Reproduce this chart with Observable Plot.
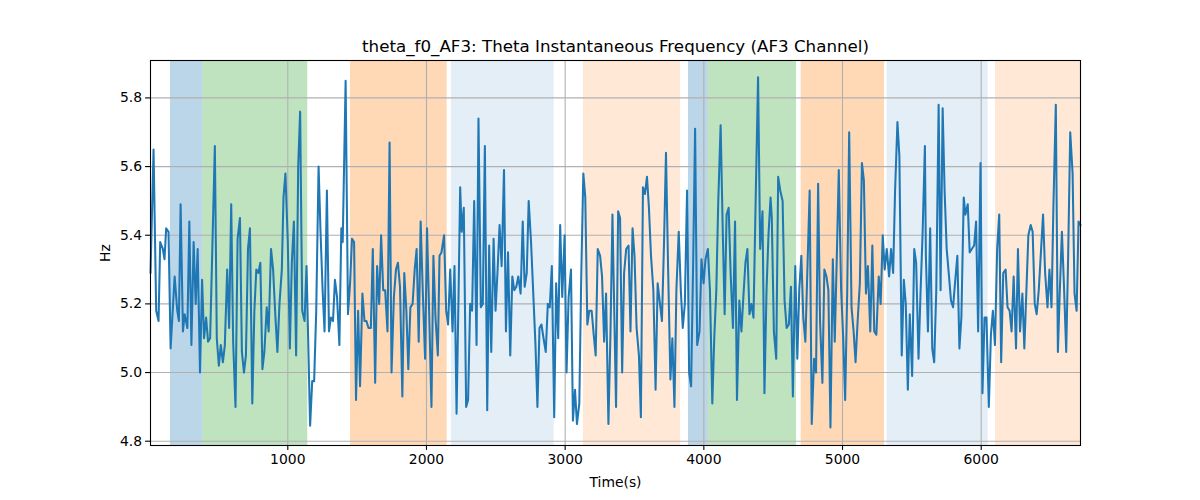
<!DOCTYPE html>
<html>
<head>
<meta charset="utf-8">
<script src="https://cdn.jsdelivr.net/npm/d3@7"></script>
<script src="https://cdn.jsdelivr.net/npm/@observablehq/plot@0.6"></script>
<style>
  html, body { margin: 0; padding: 0; background: white; }
</style>
</head>
<body>
<div id="chart"></div>
<script>
const times = [
  10, 32, 51, 68, 80, 99, 111, 123, 140, 155, 184, 203, 215, 227, 244, 256, 276, 290, 305, 321,
  336, 350, 367, 382, 396, 411, 425, 440, 474, 488, 503, 517, 532, 546, 563, 577, 592, 606, 623, 638,
  655, 669, 684, 698, 713, 727, 744, 759, 773, 788, 802, 817, 831, 848, 862, 879, 894, 911, 925, 940,
  957, 969, 983, 1000, 1015, 1029, 1044, 1060, 1075, 1089, 1104, 1121, 1135,
  1161, 1176, 1190, 1205, 1222, 1236, 1251, 1265, 1282, 1297, 1311, 1326, 1340, 1355, 1372, 1386, 1396, 1417, 1434, 1449,
  1463, 1478, 1492, 1507, 1521, 1538, 1553, 1567, 1582, 1599, 1613, 1630, 1644, 1659, 1673, 1688, 1702, 1719, 1734, 1748,
  1765, 1780, 1794, 1809, 1826, 1840, 1855, 1869, 1884, 1900, 1915, 1929, 1944, 1958, 1973, 1990, 2004, 2019, 2036, 2050,
  2065, 2082, 2094, 2108, 2127, 2142, 2156, 2171, 2188, 2202, 2217, 2231, 2243,
  2254, 2269, 2286, 2300, 2315, 2329, 2344, 2361, 2375, 2392, 2406, 2421, 2438, 2452, 2467, 2484, 2498, 2513, 2527, 2542,
  2559, 2573, 2588, 2604, 2619, 2633, 2648, 2662, 2679, 2694, 2708, 2723, 2737, 2754, 2769, 2786, 2800, 2815, 2829, 2844,
  2860, 2875, 2889, 2904, 2921, 2935, 2950, 2964, 2979, 2996, 3010, 3025, 3042, 3056, 3071, 3085, 3102, 3116, 3131, 3145,
  3160, 3174, 3191, 3206, 3220, 3235, 3252, 3266, 3281, 3295, 3312, 3327, 3341,
  3367, 3382, 3396, 3411, 3425, 3440, 3457, 3471, 3486, 3500, 3515, 3532, 3546, 3561, 3575, 3590, 3604, 3619, 3636, 3652,
  3667, 3681, 3698, 3713, 3727, 3742, 3759, 3773, 3788, 3802, 3819, 3834, 3848, 3863, 3879, 3894, 3908, 3923, 3937, 3952,
  3969, 3983, 3998, 4012, 4029, 4044, 4061, 4075, 4090, 4104, 4121, 4135, 4150, 4164, 4179, 4193, 4210, 4225, 4239, 4256,
  4271, 4285, 4300, 4314, 4329, 4343, 4358, 4375, 4391, 4406, 4423, 4437, 4452, 4466, 4481,
  4490, 4505, 4522, 4536, 4551, 4568, 4582, 4597, 4613, 4628, 4642, 4659, 4674, 4688, 4703, 4717, 4732, 4746, 4763, 4778,
  4795, 4809, 4824, 4838, 4855, 4869, 4884, 4898, 4913, 4930, 4944, 4959, 4973, 4990, 5005, 5019, 5034, 5048, 5065, 5080,
  5094, 5109, 5125, 5140, 5154, 5169, 5183, 5200, 5215, 5229, 5244, 5261, 5275, 5290, 5304, 5319, 5336, 5350, 5365, 5379,
  5396, 5410, 5427, 5442, 5456, 5471, 5485, 5502, 5517, 5531, 5548, 5563, 5577, 5594,
  5601, 5616, 5632, 5647, 5661, 5676, 5693, 5707, 5722, 5736, 5751, 5768, 5782, 5797, 5811, 5828, 5843, 5857, 5874, 5886,
  5903, 5917, 5932, 5949, 5963, 5978, 5995, 6009, 6024, 6038, 6055, 6070, 6084, 6099, 6115, 6130, 6144, 6159, 6176, 6190,
  6205, 6219, 6234, 6251, 6265, 6280, 6297, 6311, 6326, 6340, 6357, 6371, 6386, 6400, 6415, 6432, 6446, 6461, 6478, 6492,
  6507, 6521, 6538, 6553, 6567, 6582, 6598, 6613, 6627, 6642, 6659, 6673, 6688, 6702, 6716
];
const values = [
  5.29, 5.65, 5.18, 5.15, 5.38, 5.36, 5.33, 5.42, 5.41, 5.07, 5.28, 5.18, 5.15, 5.49, 5.12, 5.17, 5.13, 5.44, 5.08, 5.38,
  5.20, 5.36, 5.00, 5.27, 5.10, 5.16, 5.09, 5.10, 5.66, 5.10, 5.02, 5.08, 5.03, 5.08, 5.30, 5.13, 5.49, 5.09, 4.90, 5.39,
  5.45, 5.06, 5.00, 5.05, 5.36, 5.42, 4.91, 5.18, 5.30, 5.29, 5.32, 5.01, 5.06, 5.19, 5.12, 5.36, 5.30, 5.16, 5.06, 5.20,
  5.30, 5.51, 5.58, 5.38, 5.07, 5.32, 5.44, 5.05, 5.60, 5.76, 5.18, 5.15, 5.31,
  4.845, 4.975, 4.975, 5.18, 5.60, 5.41, 5.24, 5.12, 5.53, 5.12, 5.16, 5.15, 5.27, 5.22, 5.08, 5.42, 5.38, 5.85, 5.17, 5.26,
  5.39, 5.38, 4.92, 5.18, 4.96, 5.23, 5.15, 5.15, 5.13, 5.13, 5.36, 4.97, 5.31, 5.20, 5.40, 5.24, 5.24, 5.12, 5.67, 5.00,
  5.22, 5.30, 5.32, 5.25, 4.93, 5.29, 5.18, 5.01, 5.19, 5.20, 5.30, 5.36, 5.09, 5.44, 5.24, 5.04, 5.42, 5.18, 4.90, 5.34,
  5.16, 5.05, 5.34, 5.35, 5.40, 5.18, 5.14, 5.30, 5.12, 5.31, 4.88, 5.22, 5.54,
  5.41, 5.48, 4.90, 4.92, 5.20, 5.18, 5.50, 5.08, 5.74, 5.19, 5.20, 5.66, 4.89, 5.37, 5.06, 5.39, 5.18, 5.30, 5.43, 5.31,
  5.59, 5.12, 5.35, 5.05, 5.28, 5.24, 5.25, 5.28, 5.23, 5.44, 5.25, 5.29, 5.50, 5.38, 5.24, 5.08, 4.90, 5.13, 5.14, 5.10,
  5.06, 5.20, 5.19, 5.31, 4.87, 5.26, 5.10, 5.43, 5.22, 5.40, 5.00, 5.22, 5.30, 4.86, 4.95, 4.85, 4.91, 5.28, 5.58, 5.51,
  5.14, 5.18, 5.18, 5.11, 5.05, 5.36, 5.34, 5.28, 5.09, 5.23, 4.85, 5.12, 5.46,
  4.90, 5.47, 5.45, 5.00, 5.29, 5.36, 5.37, 5.12, 5.42, 5.34, 5.13, 5.05, 4.87, 5.54, 5.52, 5.57, 5.48, 5.34, 5.24, 4.95,
  5.26, 5.21, 5.15, 5.38, 5.64, 5.31, 4.98, 5.10, 4.90, 5.24, 5.41, 5.24, 5.13, 5.20, 5.53, 5.00, 4.96, 5.32, 5.71, 5.08,
  5.12, 5.33, 5.26, 5.33, 5.36, 5.24, 4.91, 5.10, 5.24, 5.50, 5.72, 5.44, 5.17, 5.46, 5.48, 5.29, 5.13, 5.44, 4.92, 5.21,
  5.12, 5.22, 5.32, 5.36, 5.17, 5.20, 5.16, 5.53, 5.86, 5.36, 5.47, 4.94, 5.24, 5.40, 5.51,
  5.45, 5.12, 5.04, 5.57, 5.53, 5.50, 5.21, 5.13, 5.14, 5.25, 4.93, 5.31, 5.04, 5.24, 5.34, 5.16, 5.09, 5.29, 5.53, 4.85,
  5.04, 5.00, 5.55, 5.15, 4.97, 5.30, 5.28, 5.24, 4.84, 5.33, 5.09, 5.34, 5.59, 5.24, 5.10, 4.92, 5.24, 5.70, 5.19, 5.12,
  5.03, 5.15, 5.26, 5.61, 5.56, 5.23, 5.31, 5.12, 5.37, 5.12, 5.11, 5.28, 5.20, 5.40, 5.30, 5.36, 5.28, 5.36, 5.29, 5.53,
  5.73, 5.63, 5.05, 5.27, 5.20, 4.95, 5.17, 4.99, 5.36, 5.32, 5.04, 5.24, 5.40, 5.66,
  5.34, 5.12, 5.42, 5.07, 5.03, 5.24, 5.78, 5.24, 5.77, 5.53, 5.36, 5.28, 5.21, 5.19, 5.26, 5.34, 5.07, 5.16, 5.51, 5.46,
  5.49, 5.35, 5.36, 5.37, 5.44, 5.12, 5.61, 4.94, 5.16, 5.16, 4.90, 5.11, 5.18, 5.08, 5.36, 5.46, 5.03, 5.29, 5.30, 5.19,
  5.18, 5.12, 5.28, 5.07, 5.36, 5.12, 5.23, 5.07, 5.24, 5.40, 5.43, 5.41, 5.20, 5.17, 5.24, 5.36, 5.46, 5.29, 5.19, 5.30,
  5.19, 5.49, 5.78, 5.06, 5.24, 5.41, 5.24, 5.06, 5.34, 5.70, 5.58, 5.23, 5.18, 5.44, 5.43
];

const bandStart = [154, 387, 1452, 2180, 3132, 3889, 4032, 4702, 5322, 6103];
const bandEnd   = [387, 1144, 2149, 2921, 3832, 4032, 4668, 5303, 6050, 6716];
const bandColor = ["#1f77b4", "#2ca02c", "#ff7f0e", "#1f77b4", "#ff7f0e", "#1f77b4", "#2ca02c", "#ff7f0e", "#1f77b4", "#ff7f0e"];
const bandAlpha = [0.3, 0.3, 0.3, 0.12, 0.17, 0.3, 0.3, 0.3, 0.12, 0.17];

const xTicks = [1000, 2000, 3000, 4000, 5000, 6000];
const yTicks = [4.8, 5.0, 5.2, 5.4, 5.6, 5.8];

const titleText = "theta_f0_AF3: Theta Instantaneous Frequency (AF3 Channel)";

const series = times.map((t, i) => ({t, v: values[i]}));
const bands = bandStart.map((s, i) => ({s, e: bandEnd[i], c: bandColor[i], a: bandAlpha[i]}));

const chart = Plot.plot({
  width: 1200,
  height: 500,
  marginLeft: 150,
  marginRight: 120,
  marginTop: 60,
  marginBottom: 55,
  style: {fontFamily: "DejaVu Sans", fontSize: "13.9px", color: "black", background: "white"},
  x: {domain: [10, 6716]},
  y: {domain: [4.7875, 5.909]},
  color: {type: "identity"},
  opacity: {type: "identity"},
  marks: [
    Plot.rect(bands, {x1: "s", x2: "e", fill: "c", fillOpacity: "a"}),
    Plot.gridX(xTicks, {stroke: "#b0b0b0", strokeOpacity: 1, strokeWidth: 1.1}),
    Plot.gridY(yTicks, {stroke: "#b0b0b0", strokeOpacity: 1, strokeWidth: 1.1}),
    Plot.line(series, {x: "t", y: "v", stroke: "#1f77b4", strokeWidth: 2.05}),
    Plot.frame({stroke: "black", strokeWidth: 1.1}),
    Plot.axisX(xTicks, {tickSize: 4.9, tickPadding: 3.5, strokeWidth: 1.1, tickFormat: d => String(d), label: "Time(s)", labelAnchor: "center", labelArrow: "none", labelOffset: 41}),
    Plot.axisY(yTicks, {tickSize: 4.9, tickPadding: 3.5, strokeWidth: 1.1, tickFormat: d => d.toFixed(1), label: "Hz", labelAnchor: "center", labelArrow: "none", labelOffset: 50}),
    Plot.text([titleText], {frameAnchor: "top", lineAnchor: "middle", dy: -14, fontSize: 16.7})
  ]
});
document.getElementById("chart").appendChild(chart);
</script>
</body>
</html>
